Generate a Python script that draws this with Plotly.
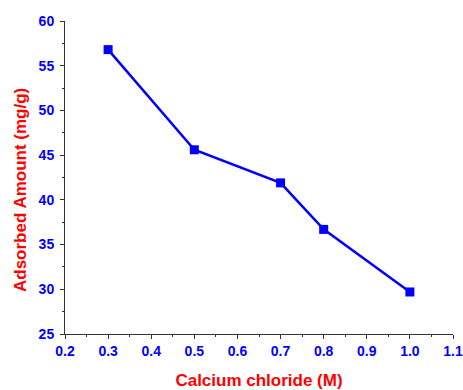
import plotly.graph_objects as go

concentration = [0.3, 0.5, 0.7, 0.8, 1.0]
adsorbed = [56.8, 45.6, 41.9, 36.7, 29.7]

x_ticks = [0.2, 0.3, 0.4, 0.5, 0.6, 0.7, 0.8, 0.9, 1.0, 1.1]
y_ticks = [25, 30, 35, 40, 45, 50, 55, 60]

fig = go.Figure()
fig.add_trace(go.Scatter(
    x=concentration, y=adsorbed, mode="lines+markers",
    line=dict(color="#0000FF", width=2.5),
    marker=dict(symbol="square", size=9, color="#0000FF"),
    showlegend=False,
))

tickfont = dict(family="Liberation Sans, Arial", size=14, color="#0000FF")
titlefont = dict(family="Liberation Sans, Arial", size=17, color="#FF0000")

fig.update_layout(
    width=463, height=390,
    margin=dict(l=65, r=10, t=21, b=56),
    paper_bgcolor="white", plot_bgcolor="white",
    xaxis=dict(
        range=[0.2, 1.1], tickvals=x_ticks, automargin=False,
        ticktext=[f"<b>{v:.1f}</b>" for v in x_ticks],
        showgrid=False, zeroline=False, showline=True, linecolor="#333333", linewidth=1,
        ticks="outside", ticklen=4, tickcolor="#333333",
        minor=dict(dtick=0.05, tick0=0.2, ticks="outside", ticklen=2, tickcolor="#333333", showgrid=False),
        tickfont=tickfont,
        title=dict(text="<b>Calcium chloride (M)</b>", font=titlefont, standoff=16),
    ),
    yaxis=dict(
        range=[25, 60], tickvals=y_ticks, automargin=False,
        ticktext=[f"<b>{v}</b>" for v in y_ticks],
        showgrid=False, zeroline=False, showline=True, linecolor="#333333", linewidth=1,
        ticks="outside", ticklen=4, tickcolor="#333333", ticklabelstandoff=3,
        minor=dict(dtick=2.5, tick0=25, ticks="outside", ticklen=2, tickcolor="#333333", showgrid=False),
        tickfont=tickfont,
    ),
)

fig.add_annotation(
    text="<b>Adsorbed Amount (mg/g)</b>", font=titlefont, textangle=-90,
    xref="paper", yref="paper", x=0, y=0.46, xshift=-45,
    xanchor="center", yanchor="middle", showarrow=False,
)

fig.write_html(
    "out.html",
    config={"displayModeBar": False},
    post_script="document.body.style.margin='0';document.body.style.overflow='hidden';",
)
